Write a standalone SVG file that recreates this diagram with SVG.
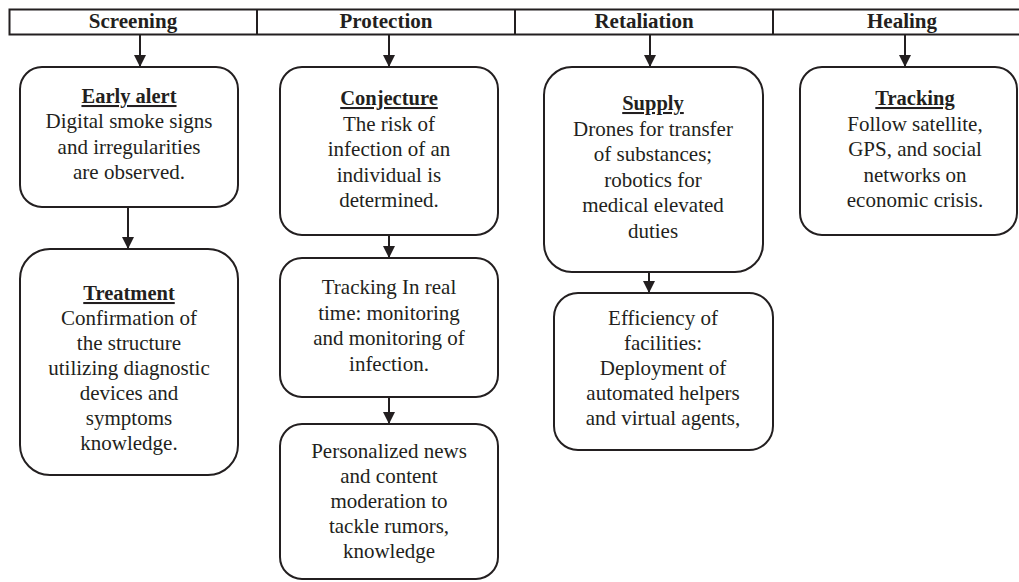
<svg xmlns="http://www.w3.org/2000/svg" width="1019" height="582" viewBox="0 0 1019 582">
<style>
text{font-family:"Liberation Serif","Times New Roman",serif;fill:#231f20;text-anchor:middle}
.h{font-size:21px;font-weight:bold}
.t{font-size:20.5px;font-weight:bold;text-decoration:underline}
.b{font-size:21px}
.box{fill:#fff;stroke:#231f20;stroke-width:2}
.hdr{fill:none;stroke:#231f20;stroke-width:2}
.con{stroke:#231f20;stroke-width:2;fill:none;marker-end:url(#ah)}
</style>
<defs>
<marker id="ah" markerUnits="userSpaceOnUse" markerWidth="14" markerHeight="12" refX="12" refY="6" orient="auto">
<path d="M0,0 L12,6 L0,12 Z" fill="#231f20"/>
</marker>
</defs>
<g id="header">
<path class="hdr" d="M1025,9.5 H9.5 V34.5 H1025 M257,9.5 V34.5 M515,9.5 V34.5 M773,9.5 V34.5"/>
<text class="h" x="133" y="28">Screening</text>
<text class="h" x="386" y="28">Protection</text>
<text class="h" x="644" y="28">Retaliation</text>
<text class="h" x="902" y="28">Healing</text>
</g>
<g id="connectors">
<path class="con" d="M140,35 V67"/>
<path class="con" d="M389,35 V67"/>
<path class="con" d="M650,35 V67"/>
<path class="con" d="M905,35 V67"/>
<path class="con" d="M128,207 V249"/>
<path class="con" d="M389,235 V258"/>
<path class="con" d="M389,397 V424"/>
<path class="con" d="M649,272 V293"/>
</g>
<g id="early-alert">
<rect class="box" x="20" y="67" width="218" height="140" rx="22"/>
<text class="t" x="129" y="103">Early alert</text>
<text class="b" x="129" y="128">Digital smoke signs</text>
<text class="b" x="129" y="153.5">and irregularities</text>
<text class="b" x="129" y="179">are observed.</text>
</g>
<g id="treatment">
<rect class="box" x="20" y="249" width="218" height="226" rx="30"/>
<text class="t" x="129" y="300">Treatment</text>
<text class="b" x="129" y="325">Confirmation of</text>
<text class="b" x="129" y="350">the structure</text>
<text class="b" x="129" y="375">utilizing diagnostic</text>
<text class="b" x="129" y="400">devices and</text>
<text class="b" x="129" y="425">symptoms</text>
<text class="b" x="129" y="450">knowledge.</text>
</g>
<g id="conjecture">
<rect class="box" x="280" y="67" width="218" height="168" rx="22"/>
<text class="t" x="389" y="105">Conjecture</text>
<text class="b" x="389" y="130.5">The risk of</text>
<text class="b" x="389" y="156">infection of an</text>
<text class="b" x="389" y="181.5">individual is</text>
<text class="b" x="389" y="207">determined.</text>
</g>
<g id="realtime">
<rect class="box" x="280" y="258" width="218" height="139" rx="22"/>
<text class="b" x="389" y="294">Tracking In real</text>
<text class="b" x="389" y="319.5">time: monitoring</text>
<text class="b" x="389" y="345">and monitoring of</text>
<text class="b" x="389" y="370.5">infection.</text>
</g>
<g id="personalized">
<rect class="box" x="280" y="424" width="218" height="155" rx="22"/>
<text class="b" x="389" y="458">Personalized news</text>
<text class="b" x="389" y="483">and content</text>
<text class="b" x="389" y="508">moderation to</text>
<text class="b" x="389" y="533">tackle rumors,</text>
<text class="b" x="389" y="558">knowledge</text>
</g>
<g id="supply">
<rect class="box" x="544" y="67" width="219" height="205" rx="28"/>
<text class="t" x="653" y="110">Supply</text>
<text class="b" x="653" y="135.5">Drones for transfer</text>
<text class="b" x="653" y="161">of substances;</text>
<text class="b" x="653" y="186.5">robotics for</text>
<text class="b" x="653" y="212">medical elevated</text>
<text class="b" x="653" y="237.5">duties</text>
</g>
<g id="efficiency">
<rect class="box" x="554" y="293" width="219" height="157" rx="24"/>
<text class="b" x="663" y="325">Efficiency of</text>
<text class="b" x="663" y="350">facilities:</text>
<text class="b" x="663" y="375">Deployment of</text>
<text class="b" x="663" y="400">automated helpers</text>
<text class="b" x="663" y="425">and virtual agents,</text>
</g>
<g id="tracking">
<rect class="box" x="800" y="67" width="217" height="168" rx="22"/>
<text class="t" x="915" y="105">Tracking</text>
<text class="b" x="915" y="130.5">Follow satellite,</text>
<text class="b" x="915" y="156">GPS, and social</text>
<text class="b" x="915" y="181.5">networks on</text>
<text class="b" x="915" y="207">economic crisis.</text>
</g>
</svg>
